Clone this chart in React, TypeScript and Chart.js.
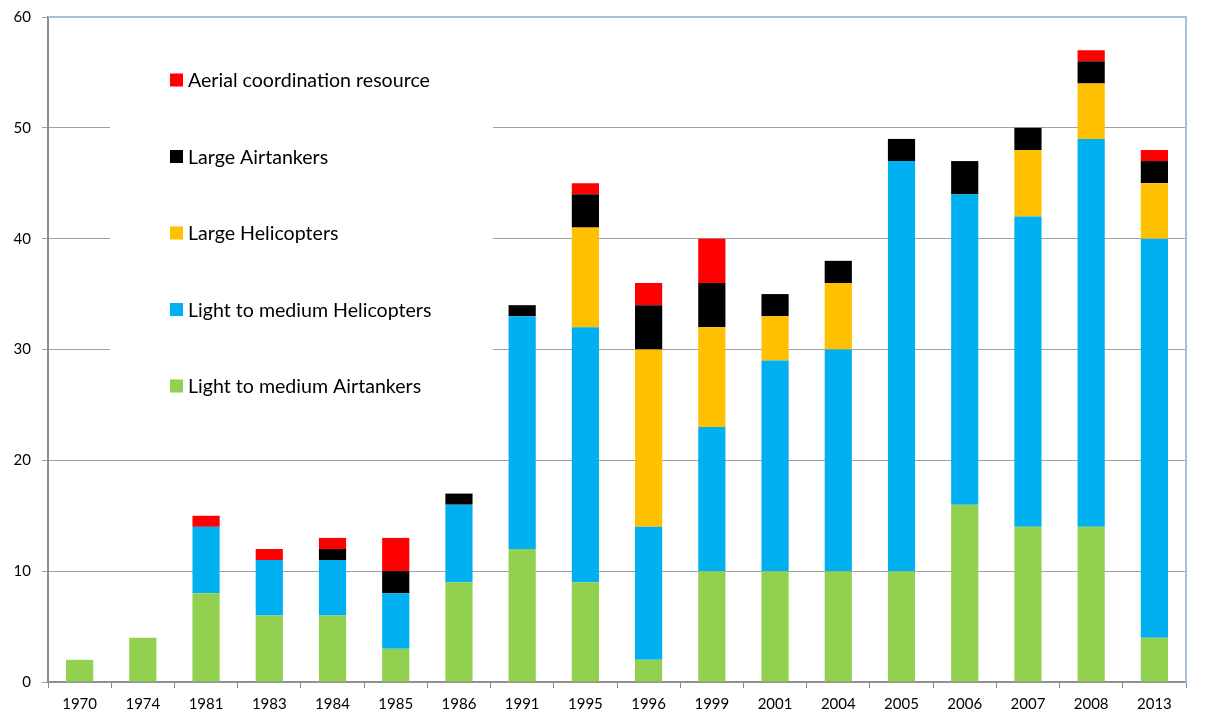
import React, { useEffect, useRef } from "react";
import { Chart, registerables } from "chart.js";

Chart.register(...registerables);

const categories = ["1970", "1974", "1981", "1983", "1984", "1985", "1986", "1991", "1995", "1996", "1999", "2001", "2004", "2005", "2006", "2007", "2008", "2013"];
const lightAirtankers = [2, 4, 8, 6, 6, 3, 9, 12, 9, 2, 10, 10, 10, 10, 16, 14, 14, 4];
const lightHelicopters = [0, 0, 6, 5, 5, 5, 7, 21, 23, 12, 13, 19, 20, 37, 28, 28, 35, 36];
const largeHelicopters = [0, 0, 0, 0, 0, 0, 0, 0, 9, 16, 9, 4, 6, 0, 0, 6, 5, 5];
const largeAirtankers = [0, 0, 0, 0, 1, 2, 1, 1, 3, 4, 4, 2, 2, 2, 3, 2, 2, 2];
const aerialCoordination = [0, 0, 1, 1, 1, 3, 0, 0, 1, 2, 4, 0, 0, 0, 0, 0, 1, 1];
const yTicks = [0, 10, 20, 30, 40, 50, 60];

const seriesNames = [
  "Light to medium Airtankers",
  "Light to medium Helicopters",
  "Large Helicopters",
  "Large Airtankers",
  "Aerial coordination resource",
];
const seriesColors = ["#92D050", "#00B0F0", "#FFC000", "#000000", "#FF0000"];
const seriesData = [lightAirtankers, lightHelicopters, largeHelicopters, largeAirtankers, aerialCoordination];

const FONT = "Lato";

const boxLegendPlugin = {
  id: "boxLegend",
  beforeDatasetsDraw(chart: any) {
    const ctx = chart.ctx;
    ctx.save();
    ctx.fillStyle = "#FFFFFF";
    ctx.fillRect(110, 30, 383, 392);
    const n = seriesNames.length;
    ctx.font = `19.6px ${FONT}`;
    ctx.textBaseline = "middle";
    ctx.textAlign = "left";
    for (let i = 0; i < n; i++) {
      const idx = n - 1 - i;
      const cy = 80 + i * 76.5;
      ctx.fillStyle = seriesColors[idx];
      ctx.fillRect(170, cy - 6.5, 13, 13);
      ctx.fillStyle = "#000000";
      ctx.fillText(seriesNames[idx], 188, cy + 1);
    }
    ctx.restore();
  },
  afterDraw(chart: any) {
    const { ctx, chartArea } = chart;
    ctx.save();
    ctx.strokeStyle = "#A7BFDD";
    ctx.lineWidth = 2;
    ctx.beginPath();
    ctx.moveTo(chartArea.left, chartArea.top);
    ctx.lineTo(chartArea.right, chartArea.top);
    ctx.lineTo(chartArea.right, chartArea.bottom);
    ctx.stroke();
    ctx.restore();
  },
};

export default function App() {
  const ref = useRef<HTMLCanvasElement | null>(null);
  useEffect(() => {
    document.body.style.margin = "0";
    const chart = new Chart(ref.current as HTMLCanvasElement, {
      type: "bar",
      data: {
        labels: categories,
        datasets: seriesData.map((d, i) => ({
          label: seriesNames[i],
          data: d,
          backgroundColor: seriesColors[i],
          borderWidth: 0,
          barPercentage: 0.43,
          categoryPercentage: 1,
        })),
      },
      options: {
        animation: false,
        responsive: false,
        maintainAspectRatio: false,
        layout: { padding: { top: 17, right: 24, left: 0, bottom: 0 } },
        plugins: {
          legend: { display: false },
          tooltip: { enabled: false },
          title: { display: false },
        },
        scales: {
          x: {
            stacked: true,
            afterFit(scale: any) {
              scale.height = 36;
              scale.paddingLeft = 0;
              scale.paddingRight = 0;
            },
            grid: {
              offset: true,
              drawOnChartArea: false,
              drawTicks: true,
              tickLength: 6,
              color: "#8C8C8C",
            },
            border: { color: "#8C8C8C", width: 1.5 },
            ticks: {
              color: "#000000",
              font: { family: FONT, size: 15 },
              padding: 7,
              maxRotation: 0,
              autoSkip: false,
            },
          },
          y: {
            stacked: true,
            min: 0,
            max: 60,
            afterFit(scale: any) {
              scale.width = 48;
              scale.paddingTop = 0;
              scale.paddingBottom = 0;
            },
            afterBuildTicks(scale: any) {
              scale.ticks = yTicks.map((v) => ({ value: v }));
            },
            grid: {
              color: "#A0A0A0",
              lineWidth: 1,
              drawTicks: true,
              tickLength: 6,
            },
            border: { color: "#8C8C8C", width: 2 },
            ticks: {
              color: "#000000",
              font: { family: FONT, size: 15 },
              padding: 11,
            },
          },
        },
      },
      plugins: [boxLegendPlugin],
    });
    return () => chart.destroy();
  }, []);
  return (
    <div style={{ width: 1210, height: 718, background: "#FFFFFF" }}>
      <canvas ref={ref} width={1210} height={718} style={{ display: "block" }} />
    </div>
  );
}
